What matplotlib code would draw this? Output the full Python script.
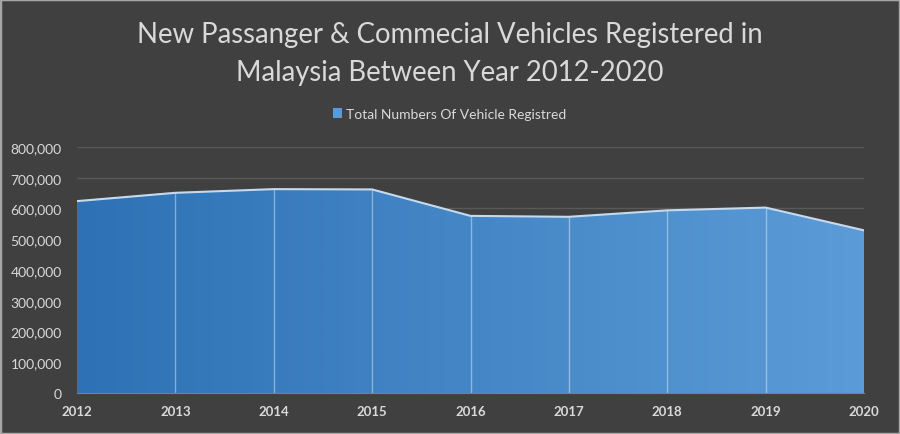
import matplotlib
matplotlib.use('Agg')
import matplotlib.pyplot as plt
import numpy as np
from matplotlib.colors import LinearSegmentedColormap
from matplotlib.patches import Rectangle, Polygon, Patch
from matplotlib.ticker import FuncFormatter, MultipleLocator

years = [2012, 2013, 2014, 2015, 2016, 2017, 2018, 2019, 2020]
vehicles = [624000, 651000, 663000, 662000, 576000, 573000, 594000, 603000, 529000]
title_lines = ['New Passanger & Commecial Vehicles Registered in',
               'Malaysia Between Year 2012-2020']
series_name = 'Total Numbers Of Vehicle Registred'

plt.rcParams['font.family'] = ['Lato', 'DejaVu Sans']

bg = '#404040'
txt = '#D9D9D9'
H = 435
fig = plt.figure(figsize=(9, 4.35), dpi=100, facecolor=bg)
ax = fig.add_axes([77/900, 1-394/H, (864-77)/900, (394-148)/H])
ax.set_facecolor(bg)
ax.set_xlim(years[0], years[-1])
ax.set_ylim(0, 800000)
ax.yaxis.set_major_locator(MultipleLocator(100000))
ax.yaxis.set_major_formatter(FuncFormatter(lambda v, p: f'{int(v):,}'))
ax.set_xticks(years)
ax.yaxis.grid(True, color='#595959', lw=1)
ax.set_axisbelow(True)

cmap = LinearSegmentedColormap.from_list('g', ['#2E72B5', '#5B9BD7'])
verts = [(years[0], 0)] + list(zip(years, vehicles)) + [(years[-1], 0)]
poly = Polygon(verts, closed=True, transform=ax.transData, facecolor='none', edgecolor='none')
ax.add_patch(poly)
img = ax.imshow(np.linspace(0, 1, 256).reshape(1, -1), cmap=cmap,
                extent=[years[0], years[-1], 0, 800000], aspect='auto', zorder=2, interpolation='bicubic')
img.set_clip_path(poly)
ax.vlines(years[1:-1], 0, vehicles[1:-1], color='white', alpha=0.4, lw=1, zorder=3)
ax.plot(years, vehicles, color='#C5DAEF', lw=1.5, zorder=4, solid_joinstyle='miter')

for s in ['top', 'right', 'left']:
    ax.spines[s].set_visible(False)
ax.spines['bottom'].set_color('#7F7F7F')
ax.spines['bottom'].set_zorder(5)
ax.tick_params(axis='both', length=0, colors=txt)
ax.tick_params(axis='y', labelsize=10, pad=11)
ax.tick_params(axis='x', labelsize=9.5, pad=9)
for lab in ax.get_xticklabels():
    lab.set_fontweight('bold')

fig.text(0.5, 1-42.5/H, title_lines[0], ha='center', va='baseline', fontsize=19.8, color=txt)
fig.text(0.5, 1-80.8/H, title_lines[1], ha='center', va='baseline', fontsize=19.8, color=txt)
fig.legend(handles=[Patch(facecolor='#5B9BD5', edgecolor='none', label=series_name)],
           loc='center', bbox_to_anchor=(0.5, 1-115/H), frameon=False, fontsize=10,
           labelcolor=txt, handlelength=0.65, handleheight=0.65, handletextpad=0.3)

fig.patches.append(Rectangle((0, 0), 1, 1, transform=fig.transFigure, fill=False,
                             edgecolor='#A6A6A6', lw=2.5))
fig.savefig('out.png', dpi=100, facecolor=bg)
